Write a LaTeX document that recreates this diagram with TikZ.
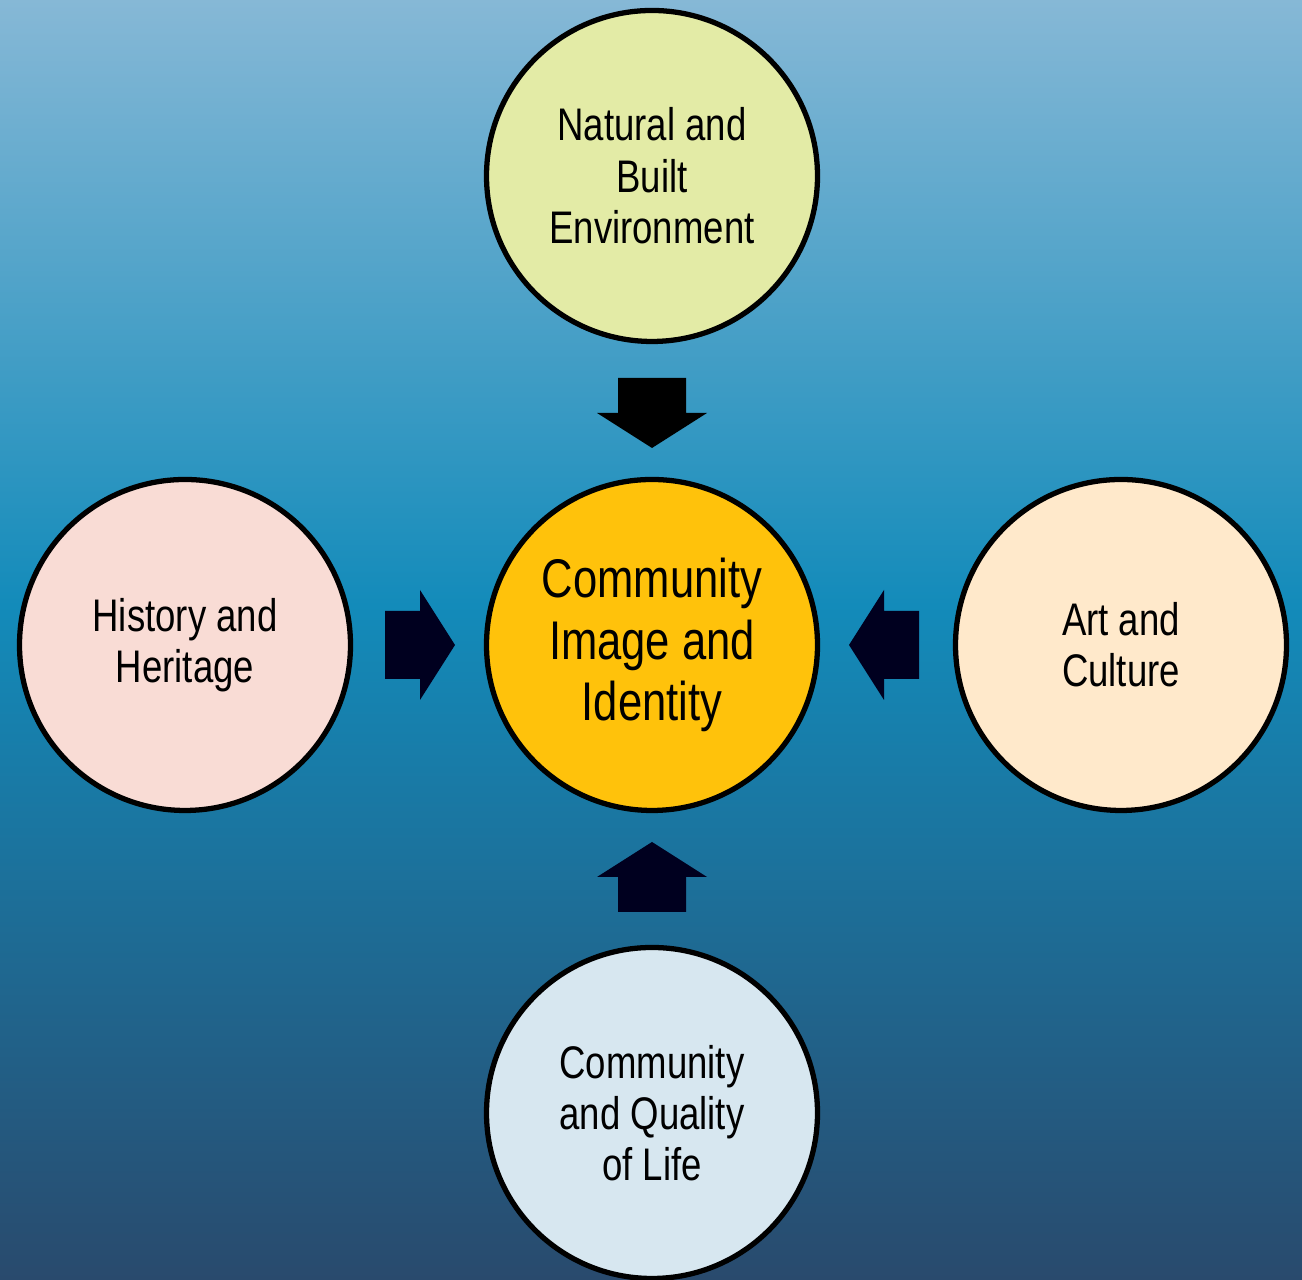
\documentclass[tikz,border=0pt]{standalone}
\usepackage{fontspec}
\setmainfont{Liberation Sans}[FakeStretch=0.8]
\definecolor{bgtop}{HTML}{86B8D6}
\definecolor{bgmid}{HTML}{138BBA}
\definecolor{bgbot}{HTML}{294A6D}
\definecolor{natfill}{HTML}{E3EBA6}
\definecolor{hisfill}{HTML}{F9DCD5}
\definecolor{artfill}{HTML}{FFE9CB}
\definecolor{lifefill}{HTML}{D7E7F0}
\definecolor{corefill}{HTML}{FFC20B}
\definecolor{arrowink}{HTML}{00001F}
\tikzset{
  theme/.style={circle, draw=black, line width=1.5pt, minimum size=3.31cm,
    inner sep=0pt, align=center, font=\fontsize{13pt}{14.6pt}\selectfont},
  core/.style={theme, fill=corefill, font=\fontsize{15.5pt}{17.4pt}\selectfont}
}
\newcommand\blockarrow[3]{% tip position, rotation, colour
  \fill[#3, shift={#1}, rotate=#2]
    (-0.70,-0.34) -- (-0.35,-0.34) -- (-0.35,-0.55) -- (0,0)
    -- (-0.35,0.55) -- (-0.35,0.34) -- (-0.70,0.34) -- cycle;}
\begin{document}
\begin{tikzpicture}
  \useasboundingbox (0,0) rectangle (13.02,12.8);
  \clip (0,0) rectangle (13.02,12.8);
  % background, light at the top, dark at the bottom
  \shade[top color=bgtop, bottom color=bgmid] (0,6.75) rectangle (13.02,12.8);
  \shade[top color=bgmid, bottom color=bgbot] (0,0) rectangle (13.02,6.76);
  % centre and the four themes
  \node[core] (identity) at (6.52,6.35) {Community\\Image and\\Identity};
  \node[theme, fill=natfill] (natural) at (6.52,11.04) {Natural and\\Built\\Environment};
  \node[theme, fill=hisfill] (history) at (1.85,6.35) {History and\\Heritage};
  \node[theme, fill=artfill] (art) at (11.21,6.35) {Art and\\Culture};
  \node[theme, fill=lifefill] (life) at (6.52,1.67) {Community\\and Quality\\of Life};
  % block arrows pointing at the centre
  \blockarrow{(6.52,8.32)}{-90}{black}
  \blockarrow{(4.55,6.35)}{0}{arrowink}
  \blockarrow{(8.49,6.35)}{180}{arrowink}
  \blockarrow{(6.52,4.38)}{90}{arrowink}
\end{tikzpicture}
\end{document}
